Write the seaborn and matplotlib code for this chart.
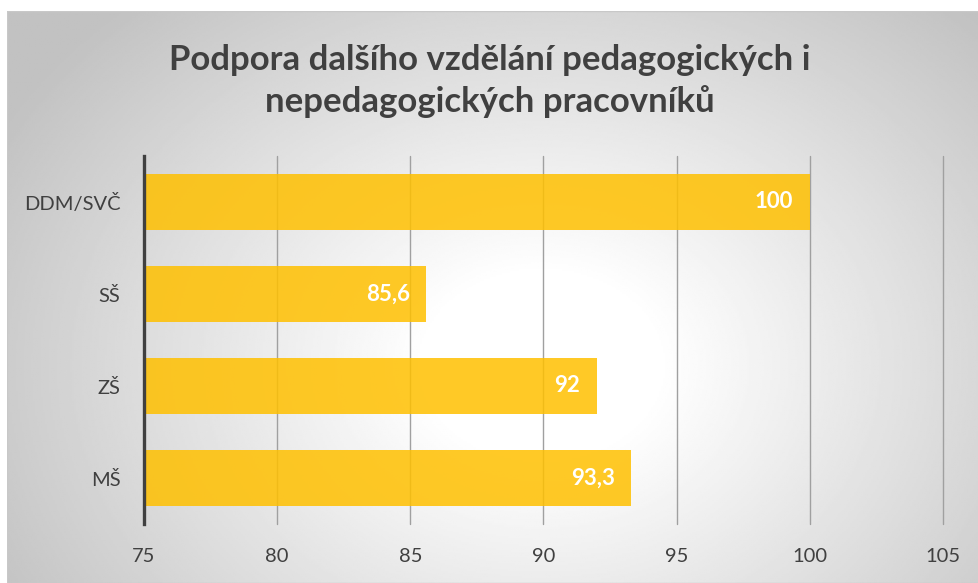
import numpy as np
import pandas as pd
import matplotlib
matplotlib.use("Agg")
import matplotlib.pyplot as plt
import seaborn as sns

# data
categories = ["DDM/SVČ", "SŠ", "ZŠ", "MŠ"]
values = [100, 85.6, 92, 93.3]
value_labels = ["100", "85,6", "92", "93,3"]
x_ticks = [75, 80, 85, 90, 95, 100, 105]

title = "Podpora dalšího vzdělání pedagogických i\nnepedagogických pracovníků"

sns.set_style("white")
plt.rcParams["font.family"] = ["Lato", "DejaVu Sans"]

W, H = 979, 583
fig = plt.figure(figsize=(W / 100, H / 100), dpi=100)
fig.patch.set_facecolor("white")

# radial gradient background of the chart area
bg = fig.add_axes([7 / W, 0, 1 - 7 / W, 1 - 11 / H])
yy, xx = np.mgrid[0:1:300j, 0:1:500j]
r = np.sqrt(((xx - 0.55) * 1.0) ** 2 + ((yy - 0.62) * 0.75) ** 2)
shade = np.clip((r - 0.12) / 0.52, 0, 1)
grey = 1 - shade * 0.24
bg.imshow(grey, cmap="gray", vmin=0, vmax=1, extent=[0, 1, 0, 1],
          aspect="auto", origin="upper")
bg.set_axis_off()
bg.add_patch(plt.Rectangle((0, 0), 1, 1, fill=False, edgecolor="#c8c8c8",
                           lw=1, transform=bg.transAxes))

ax = fig.add_axes([144 / W, 1 - 524 / H, (943 - 144) / W, (524 - 156) / H])
ax.patch.set_alpha(0)

df = pd.DataFrame({"category": categories, "value": values})
sns.barplot(data=df, x="value", y="category", orient="h", color="#FFC000",
            saturation=1, alpha=0.85, width=0.6, ax=ax, zorder=3, linewidth=0)

ax.set_xlim(75, 105)
ax.set_xticks(x_ticks)
ax.set_xticklabels([str(t) for t in x_ticks])
ax.grid(axis="x", color="#a0a0a0", lw=1, zorder=0)
ax.set_axisbelow(True)
for line in ax.get_xgridlines():
    line.set_clip_on(False)
for s in ["top", "right", "bottom"]:
    ax.spines[s].set_visible(False)
ax.spines["left"].set_color("#404040")
ax.spines["left"].set_linewidth(2.4)
ax.spines["left"].set_zorder(5)
ax.tick_params(axis="both", length=0, labelsize=14.5, colors="#404040")
ax.tick_params(axis="x", pad=17)
ax.tick_params(axis="y", pad=17)
ax.set_xlabel("")
ax.set_ylabel("")

for i, (v, lab) in enumerate(zip(values, value_labels)):
    ax.annotate(lab, (v, i), xytext=(-12, 0), textcoords="offset points",
                ha="right", va="center", color="white", fontsize=16,
                fontweight="bold", zorder=6)

fig.text(490 / W, 1 - 81 / H, title, ha="center", va="center",
         fontsize=25, fontweight="bold", color="#404040", linespacing=1.33)

fig.savefig("out.png", dpi=100)
